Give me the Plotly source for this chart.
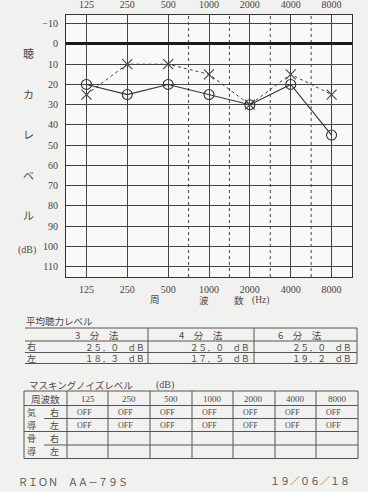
import plotly.graph_objects as go

W, H = 368, 492
L, R, T, B = 66, 16, 15, 215

# ---------------- data ----------------
freq_labels = ["125", "250", "500", "1000", "2000", "4000", "8000"]
right_ear = [20, 25, 20, 25, 30, 20, 45]     # O, solid
left_ear = [25, 10, 10, 15, 30, 15, 25]      # X, dotted
y_tick_vals = [-10, 0, 10, 20, 30, 40, 50, 60, 70, 80, 90, 100, 110]
y_title_chars = ["聴", "カ", "レ", "ベ", "ル"]

avg_methods = ["3　分　法", "4　分　法", "6　分　法"]
avg_right = [25.0, 25.0, 25.0]
avg_left = [18.3, 17.5, 19.2]

mask_header = "周波数"
mask_freqs = ["125", "250", "500", "1000", "2000", "4000", "8000"]
mask_air_right = ["OFF", "OFF", "OFF", "OFF", "OFF", "OFF", "OFF"]
mask_air_left = ["OFF", "OFF", "OFF", "OFF", "OFF", "OFF", "OFF"]
mask_bone_right = ["", "", "", "", "", "", ""]
mask_bone_left = ["", "", "", "", "", "", ""]

model_text = "RION AA-79S"
date_text = "19/06/18"

# ---------------- helpers ----------------
PW, PH = W - L - R, H - T - B
def px(x):
    return (x - L) / PW
def py(y):
    return 1 - (y - T) / PH

FW = str.maketrans("0123456789.dBRIONA-S/ ", "０１２３４５６７８９．ｄＢＲＩＯＮＡ－Ｓ／　")
def fullwidth(s):
    return s.translate(FW)

SERIF = "Liberation Serif, Noto Sans CJK JP, serif"
CJK = "Noto Sans CJK JP, sans-serif"
TXT = "#4a4a4a"
LINE = "#555555"

shapes = []
annotations = []

def hline(y, x0, x1, color=LINE, width=1):
    shapes.append(dict(type="line", xref="paper", yref="paper",
                       x0=px(x0), x1=px(x1), y0=py(y), y1=py(y),
                       line=dict(color=color, width=width)))

def vline(x, y0, y1, color=LINE, width=1):
    shapes.append(dict(type="line", xref="paper", yref="paper",
                       x0=px(x), x1=px(x), y0=py(y0), y1=py(y1),
                       line=dict(color=color, width=width)))

def text(x, y, s, size=10, family=CJK, anchor="center", color=TXT):
    annotations.append(dict(xref="paper", yref="paper", x=px(x), y=py(y),
                            text=s, showarrow=False, xanchor=anchor, borderpad=0,
                            yanchor="middle", font=dict(size=size, family=family, color=color)))

# ---------------- chart ----------------
fig = go.Figure()
fig.add_trace(go.Scatter(x=freq_labels, y=left_ear, mode="lines+markers",
                         line=dict(color="#444", width=1, dash="dot"),
                         marker=dict(symbol="x-thin-open", size=10,
                                     line=dict(color="#333", width=1.1)),
                         showlegend=False))
fig.add_trace(go.Scatter(x=freq_labels, y=right_ear, mode="lines+markers",
                         line=dict(color="#333", width=1.1),
                         marker=dict(symbol="circle-open", size=10,
                                     color="#333", line=dict(width=1.1)),
                         showlegend=False))
fig.add_trace(go.Scatter(x=freq_labels, y=right_ear, xaxis="x2", mode="markers",
                         marker=dict(opacity=0), showlegend=False, hoverinfo="skip"))

# dotted half-octave lines
for xv in [2.5, 3.5, 4.5, 5.5]:
    shapes.append(dict(type="line", xref="x", yref="paper", x0=xv, x1=xv, y0=0, y1=1,
                       line=dict(color="#444", width=1, dash="dot"), layer="below"))

# y title characters
for ch, yy in zip(y_title_chars, [53, 94, 134, 175, 215]):
    text(28, yy, ch, size=11)
text(27, 250, "(dB)", size=10, family=SERIF)

# x title
for ch, xx in zip(["周", "波", "数", "(Hz)"], [155, 204, 239, 260]):
    text(xx, 300, ch, size=9.5, family=SERIF)

# ---------------- table 1: 平均聴力レベル ----------------
text(25, 321, "平均聴力レベル", size=9.5, anchor="left")
t1_rows = [328, 341, 352.5, 363.5]
for yy in t1_rows:
    hline(yy, 25, 357)
for xx in [148, 254, 357]:
    vline(xx, 328, 363.5)
head_x = [97, 201, 300]
right_edge = [146, 251, 353]
for i, m in enumerate(avg_methods):
    text(head_x[i], 334.7, m, size=9.5)
    text(right_edge[i], 347, fullwidth(f"{avg_right[i]:.1f} dB"), size=8.5, anchor="right")
    text(right_edge[i], 358.2, fullwidth(f"{avg_left[i]:.1f} dB"), size=8.5, anchor="right")
text(31, 347, "右", size=9)
text(31, 358.2, "左", size=9)

# ---------------- table 2: マスキングノイズレベル ----------------
text(28, 384.5, "マスキングノイズレベル", size=9.5, anchor="left")
text(155, 384.5, "(dB)", size=10, family=SERIF, anchor="left")
cols = [24, 67, 108, 150, 192, 233, 275, 316, 358]
rows = [391, 405.5, 418.5, 431.5, 445, 458.5]
for i, yy in enumerate(rows):
    if i in (2, 4):
        hline(yy, 44, 358)
    else:
        hline(yy, 24, 358)
for xx in cols:
    vline(xx, 391, 458.5)
text(45.5, 398.5, mask_header, size=9.5)
row_vals = [mask_air_right, mask_air_left, mask_bone_right, mask_bone_left]
row_lab = [("気", "右"), ("導", "左"), ("骨", "右"), ("導", "左")]
for j in range(7):
    cx = (cols[j + 1] + cols[j + 2]) / 2
    text(cx, 398.5, mask_freqs[j], size=9, family=SERIF)
for r, vals in enumerate(row_vals):
    cy = (rows[r + 1] + rows[r + 2]) / 2
    text(31, cy, row_lab[r][0], size=9)
    text(54, cy, row_lab[r][1], size=9)
    for j, v in enumerate(vals):
        if v:
            text(cols[j + 1] + 17, cy, v, size=8, family=SERIF)

# footer
text(17, 481, fullwidth(model_text), size=10, anchor="left", color="#555")
text(351, 480, fullwidth(date_text), size=10, anchor="right", color="#555")

tickfont = dict(size=10, family=SERIF, color="#444")
fig.update_layout(
    width=W, height=H,
    margin=dict(l=L, r=R, t=T, b=B, autoexpand=False),
    paper_bgcolor="#f1f1ef", plot_bgcolor="#f9f9f7",
    shapes=shapes, annotations=annotations,
    xaxis=dict(type="category", range=[-0.5, 6.5], showgrid=True, gridcolor="#444",
               gridwidth=1, showline=True, mirror=True, linecolor="#333", linewidth=1,
               ticks="outside", ticklen=3, tickcolor="rgba(0,0,0,0)",
               tickfont=tickfont, fixedrange=True),
    xaxis2=dict(type="category", overlaying="x", side="top", range=[-0.5, 6.5],
                showgrid=False, ticks="outside", ticklen=2, tickcolor="rgba(0,0,0,0)",
                tickfont=tickfont, matches="x"),
    yaxis=dict(range=[115.1, -14.3], tickvals=y_tick_vals, showgrid=True,
               gridcolor="#444", gridwidth=1, zeroline=True, zerolinecolor="#1a1a1a",
               zerolinewidth=2.5, showline=True, mirror=True, linecolor="#333", linewidth=1,
               ticks="outside", ticklen=5, tickcolor="rgba(0,0,0,0)",
               tickfont=tickfont, fixedrange=True),
)

fig.write_html("out.html", config={"displayModeBar": False},
               post_script="document.body.style.margin='0';document.body.style.padding='0';"
                           "document.documentElement.style.overflow='hidden';")
